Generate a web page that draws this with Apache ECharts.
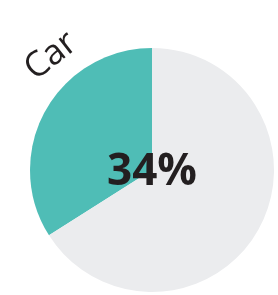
<!DOCTYPE html>
<html>
<head>
<meta charset="utf-8">
<script src="https://cdn.jsdelivr.net/npm/echarts@6/dist/echarts.min.js"></script>
<style>
  html, body { margin: 0; padding: 0; background: #fff; }
  #main { width: 278px; height: 295px; }
</style>
</head>
<body>
<div id="main"></div>
<script>
// share of car vs rest
let names = ['Car', 'Other'];
let values = [34, 66];
let colors = ['#4fbdb6', '#ebecee'];

let chart = echarts.init(document.getElementById('main'));
let option = {
    animation: false,
    series: [{
        type: 'pie',
        center: [152, 170],
        radius: [0, 122],
        startAngle: 90,
        clockwise: false,
        silent: true,
        z: 1,
        label: { show: false },
        labelLine: { show: false },
        itemStyle: { borderWidth: 0 },
        data: names.map(function (n, i) {
            return { name: n, value: values[i], itemStyle: { color: colors[i] } };
        })
    }],
    graphic: [
        {
            type: 'text',
            x: 152, y: 172,
            z: 100,
            style: {
                text: values[0] + '%',
                font: 'bold 44px "Open Sans"',
                fill: '#231f20',
                align: 'center',
                verticalAlign: 'middle'
            }
        },
        {
            type: 'text',
            x: 51, y: 56,
            z: 100,
            rotation: 38 * Math.PI / 180,
            style: {
                text: names[0],
                font: '35px "Open Sans"',
                fill: '#231f20',
                align: 'center',
                verticalAlign: 'middle'
            }
        }
    ]
};
chart.setOption(option);
window.addEventListener('resize', () => {
    chart.resize()
})
</script>
</body>
</html>
